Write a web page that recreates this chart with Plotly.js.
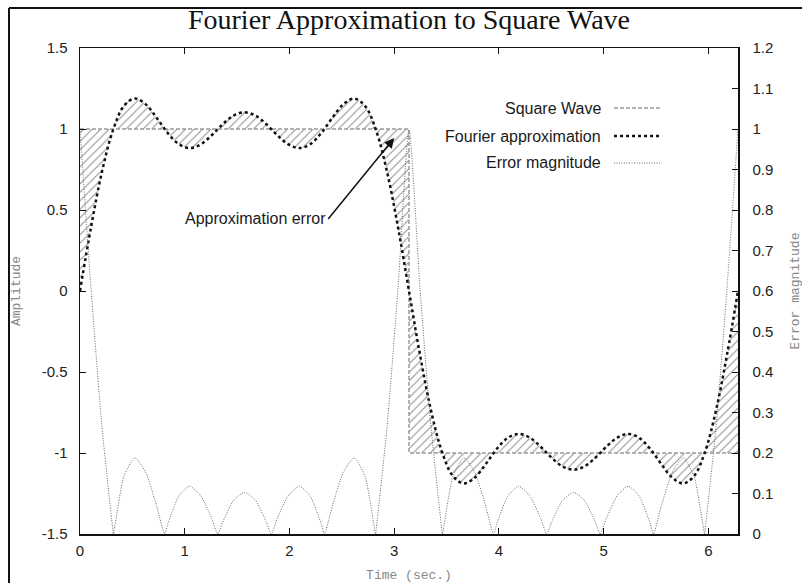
<!DOCTYPE html>
<html><head><meta charset="utf-8">
<script src="https://cdn.plot.ly/plotly-3.0.1.min.js"></script>
<style>html,body{margin:0;padding:0;background:#fff}#chart{width:802px;height:583px}</style>
</head><body><div id="chart"></div>
<script>
// Sample times (sec.) for the Fourier approximation
const timeGrid = [0, 0.1047, 0.2094, 0.3142, 0.4189, 0.5236, 0.6283, 0.7330, 0.8378, 0.9425,
  1.0472, 1.1519, 1.2566, 1.3614, 1.4661, 1.5708, 1.6755, 1.7802, 1.8850, 1.9897,
  2.0944, 2.1991, 2.3038, 2.4086, 2.5133, 2.6180, 2.7227, 2.8274, 2.9322, 3.0369,
  3.1416, 3.2463, 3.3510, 3.4558, 3.5605, 3.6652, 3.7699, 3.8746, 3.9794, 4.0841,
  4.1888, 4.2935, 4.3982, 4.5029, 4.6077, 4.7124, 4.8171, 4.9218, 5.0265, 5.1313,
  5.2360, 5.3407, 5.4454, 5.5501, 5.6549, 5.7596, 5.8643, 5.9690, 6.0737, 6.1785, 6.2832];
const fourierApprox = [0, 0.392, 0.735, 0.991, 1.142, 1.188, 1.152, 1.068, 0.975, 0.907,
  0.882, 0.905, 0.961, 1.029, 1.083, 1.103, 1.083, 1.029, 0.961, 0.905,
  0.882, 0.907, 0.975, 1.068, 1.152, 1.188, 1.142, 0.991, 0.735, 0.392,
  0, -0.392, -0.735, -0.991, -1.142, -1.188, -1.152, -1.068, -0.975, -0.907,
  -0.882, -0.905, -0.961, -1.029, -1.083, -1.103, -1.083, -1.029, -0.961, -0.905,
  -0.882, -0.907, -0.975, -1.068, -1.152, -1.188, -1.142, -0.991, -0.735, -0.392, 0];
// Square wave
const squareTime = [0, 3.1416, 3.1416, 6.2832];
const squareWave = [1, 1, -1, -1];
// Error magnitude (right axis)
const errorTime = [0, 0.1047, 0.2094, 0.3142, 0.3186, 0.4189, 0.5236, 0.6283, 0.7330, 0.8081,
  0.8378, 0.9425, 1.0472, 1.1519, 1.2566, 1.3156, 1.3614, 1.4661, 1.5708, 1.6755,
  1.7802, 1.8260, 1.8850, 1.9897, 2.0944, 2.1991, 2.3038, 2.3335, 2.4086, 2.5133,
  2.6180, 2.7227, 2.8230, 2.8274, 2.9322, 3.0369, 3.1416, 3.2463, 3.3510, 3.4558,
  3.4602, 3.5605, 3.6652, 3.7699, 3.8746, 3.9497, 3.9794, 4.0841, 4.1888, 4.2935,
  4.3982, 4.4572, 4.5029, 4.6077, 4.7124, 4.8171, 4.9218, 4.9676, 5.0265, 5.1313,
  5.2360, 5.3407, 5.4454, 5.4751, 5.5501, 5.6549, 5.7596, 5.8643, 5.9646, 5.9690,
  6.0737, 6.1785, 6.2832];
const errorMagnitude = [1.000, 0.608, 0.265, 0.009, 0, 0.142, 0.188, 0.152, 0.068, 0,
  0.025, 0.093, 0.118, 0.095, 0.039, 0, 0.029, 0.083, 0.103, 0.083,
  0.029, 0, 0.039, 0.095, 0.118, 0.093, 0.025, 0, 0.068, 0.152,
  0.188, 0.142, 0, 0.009, 0.265, 0.608, 1.000, 0.608, 0.265, 0.009,
  0, 0.142, 0.188, 0.152, 0.068, 0, 0.025, 0.093, 0.118, 0.095,
  0.039, 0, 0.029, 0.083, 0.103, 0.083, 0.029, 0, 0.039, 0.095,
  0.118, 0.093, 0.025, 0, 0.068, 0.152, 0.188, 0.142, 0, 0.009,
  0.265, 0.608, 1.000];
const seriesNames = ['Square Wave', 'Fourier approximation', 'Error magnitude'];
const xTicks = [0, 1, 2, 3, 4, 5, 6];
const xTickText = ['0', '1', '2', '3', '4', '5', '6'];
const yTicks = [-1.5, -1, -0.5, 0, 0.5, 1, 1.5];
const yTickText = ['-1.5', '-1', '-0.5', '0', '0.5', '1', '1.5'];
const y2Ticks = [0, 0.1, 0.2, 0.3, 0.4, 0.5, 0.6, 0.7, 0.8, 0.9, 1, 1.1, 1.2];
const y2TickText = ['0', '0.1', '0.2', '0.3', '0.4', '0.5', '0.6', '0.7', '0.8', '0.9', '1', '1.1', '1.2'];
const arrowNote = {text: 'Approximation error', head: [3.0, 0.944], tail: [2.37, 0.445]};

const tickFont = {family: 'Liberation Sans, Arial, sans-serif', size: 15, color: '#222'};
const labelFont = {family: 'Liberation Sans, Arial, sans-serif', size: 16, color: '#1a1a1a'};
const monoFont = {family: 'Liberation Mono, DejaVu Sans Mono, monospace', size: 13, color: '#888'};

const sqStyle = {color: '#9a9a9a', width: 1.5, dash: '4px,2px'};
const apStyle = {color: '#111', width: 2.5, dash: 'dot'};
const erStyle = {color: '#666', width: 1, dash: '1px,1.5px'};

const traces = [
  {x: squareTime, y: squareWave, type: 'scatter', mode: 'lines', name: seriesNames[0],
   line: sqStyle, showlegend: false, xaxis: 'x', yaxis: 'y'},
  {x: timeGrid, y: fourierApprox, type: 'scatter', mode: 'lines', name: seriesNames[1],
   line: Object.assign({shape: 'spline', smoothing: 1}, apStyle), fill: 'tonexty',
   fillcolor: 'rgba(0,0,0,0)',
   fillpattern: {shape: '/', fgcolor: '#8a8a8a', bgcolor: 'rgba(255,255,255,0)', size: 6, solidity: 0.16},
   showlegend: false, xaxis: 'x', yaxis: 'y'},
  {x: errorTime, y: errorMagnitude, type: 'scatter', mode: 'lines', name: seriesNames[2],
   line: Object.assign({shape: 'spline', smoothing: 0.6}, erStyle), showlegend: false, xaxis: 'x', yaxis: 'y2'}
];

// manual gnuplot-style key: text right-aligned, sample line to the right
const keyRowsY = [0.8765, 0.8189, 0.7634];
const keyStyles = [sqStyle, apStyle, erStyle];
const annotations = seriesNames.map((n, i) => ({
  xref: 'paper', yref: 'paper', x: 0.7945, y: keyRowsY[i], xanchor: 'right', yanchor: 'middle',
  text: n, showarrow: false, font: labelFont
}));
annotations.push({
  xref: 'x', yref: 'y', axref: 'x', ayref: 'y',
  x: arrowNote.head[0], y: arrowNote.head[1], ax: arrowNote.tail[0], ay: arrowNote.tail[1],
  text: arrowNote.text, xanchor: 'right', yanchor: 'middle', showarrow: true,
  arrowhead: 2, arrowsize: 1.3, arrowwidth: 1.5, arrowcolor: '#111',
  font: labelFont
});
// right-axis label, at the picture's right edge
annotations.push({
  xref: 'paper', yref: 'paper', x: 1.086, y: 0.5, xanchor: 'center', yanchor: 'middle',
  text: 'Error magnitude', textangle: -90, showarrow: false, font: monoFont
});
const shapes = keyStyles.map((s, i) => ({
  type: 'line', xref: 'paper', yref: 'paper', x0: 0.8116, x1: 0.8815, y0: keyRowsY[i], y1: keyRowsY[i],
  line: {color: s.color, width: s.width, dash: s.dash}
}));
// outer border of the picture (top and left edges)
shapes.push({type: 'line', xref: 'paper', yref: 'paper', x0: -0.1079, x1: 1.1, y0: 1.0823, y1: 1.0823,
  line: {color: '#111', width: 2}});
shapes.push({type: 'line', xref: 'paper', yref: 'paper', x0: -0.1079, x1: -0.1079, y0: 1.0823, y1: -0.11,
  line: {color: '#111', width: 2}});

const layout = {
  width: 802, height: 583,
  margin: {l: 80, r: 64, t: 48, b: 49},
  paper_bgcolor: '#fff', plot_bgcolor: '#fff',
  showlegend: false,
  title: {text: 'Fourier Approximation to Square Wave', x: 0.5, xref: 'paper', y: 0.9674, yref: 'container',
    yanchor: 'middle', font: {family: 'Liberation Serif, Times New Roman, serif', size: 28, color: '#111'}},
  xaxis: {range: [0, 6.2832], tickvals: xTicks, ticktext: xTickText, ticks: 'inside', ticklen: 6,
    tickcolor: '#111', showline: true, linecolor: '#111', linewidth: 1.5, mirror: 'ticks',
    showgrid: false, zeroline: false, tickfont: tickFont, ticklabelstandoff: 2,
    title: {text: 'Time (sec.)', font: monoFont, standoff: 23}},
  yaxis: {range: [-1.5, 1.5], tickvals: yTicks, ticktext: yTickText, ticks: 'inside', ticklen: 6,
    tickcolor: '#111', showline: true, linecolor: '#111', linewidth: 1.5, mirror: true,
    showgrid: false, zeroline: false, tickfont: tickFont, ticklabelstandoff: 8,
    title: {text: 'Amplitude', font: monoFont, standoff: 18}},
  yaxis2: {range: [0, 1.2], overlaying: 'y', side: 'right', tickvals: y2Ticks, ticktext: y2TickText,
    ticks: 'inside', ticklen: 6, tickcolor: '#111', showline: true, linecolor: '#111', linewidth: 1.5,
    showgrid: false, zeroline: false, tickfont: tickFont, ticklabelstandoff: 10},
  annotations: annotations,
  shapes: shapes
};

Plotly.newPlot('chart', traces, layout, {staticPlot: true, displayModeBar: false});
</script></body></html>
